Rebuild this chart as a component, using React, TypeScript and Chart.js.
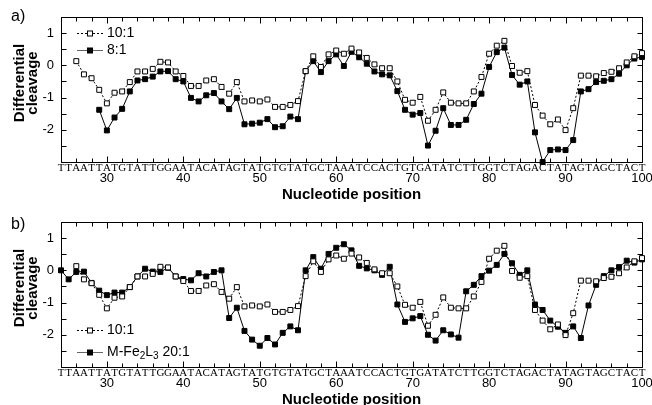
import React, { useEffect, useRef } from "react";
import { Chart, registerables } from "chart.js";

Chart.register(...registerables);

// ---------- data ----------
const sequence = "TTAATTATGTATTGGAATACATAGTATGTGTATGCTAAATCCACTGTGATATCTTGGTCTAGACTATAGTAGCTACT".split("");
const positionMin = 24;
const positionMax = 100;
const xNumberTicks = [30, 40, 50, 60, 70, 80, 90, 100];
const yLabelTicks = [1, 0, -1, -2];
const yMin = -3;
const yMax = 1.5;

// 10:1 (open squares), positions 26..100 (same in both panels)
const ratio10Start = 26;
const ratio10 = [
  0.13, -0.28, -0.40, -0.76, -1.18, -0.85, -0.81, -0.52, -0.19, -0.19,
  -0.11, 0.11, 0.09, -0.19, -0.33, -0.64, -0.64, -0.47, -0.43, -0.67,
  -0.88, -0.52, -1.12, -1.09, -1.12, -1.06, -1.29, -1.29, -1.23, -1.11,
  -0.18, 0.28, -0.05, 0.34, 0.46, 0.36, 0.52, 0.40, 0.23, 0.03,
  -0.09, -0.09, -0.50, -1.07, -1.16, -0.98, -1.72, -1.38, -0.84, -1.16,
  -1.18, -1.18, -0.81, -0.36, 0.36, 0.61, 0.76, -0.02, -0.23, -0.18,
  -1.23, -1.56, -1.83, -1.68, -2.01, -1.33, -0.32, -0.32, -0.34, -0.24,
  -0.20, -0.09, 0.09, 0.28, 0.38,
];

// 8:1 (filled squares, panel a), positions 29..100
const ratio8Start = 29;
const ratio8 = [
  -1.38, -2.02, -1.62, -1.35, -0.81, -0.47, -0.43, -0.35, -0.19, -0.18,
  -0.43, -0.50, -1.01, -1.12, -0.93, -0.86, -1.12, -1.36, -1.01, -1.83,
  -1.81, -1.78, -1.67, -1.92, -1.89, -1.59, -1.67, -0.18, 0.13, -0.21,
  0.13, 0.34, -0.02, 0.42, 0.25, 0.05, -0.19, -0.28, -0.31, -0.80,
  -1.38, -1.53, -1.48, -2.49, -2.03, -1.33, -1.85, -1.85, -1.69, -1.20,
  -0.88, -0.05, 0.41, 0.55, -0.30, -0.60, -0.50, -2.08, -3.00, -2.63,
  -2.61, -2.63, -2.32, -0.81, -0.74, -0.52, -0.48, -0.43, -0.26, 0.00,
  0.21, 0.26,
];

// M-Fe2L3 20:1 (filled squares, panel b), positions 24..100
const mfeStart = 24;
const mfe20 = [
  0.00, -0.28, -0.05, -0.04, -0.39, -0.63, -0.77, -0.69, -0.69, -0.52,
  -0.19, 0.05, -0.04, -0.05, 0.08, -0.19, -0.27, -0.31, -0.09, -0.19,
  -0.05, 0.00, -1.48, -1.16, -1.88, -2.15, -2.34, -2.10, -2.30, -1.94,
  -1.74, -1.86, 0.00, 0.41, 0.05, 0.51, 0.70, 0.81, 0.62, 0.14,
  0.06, 0.00, -0.14, 0.11, -1.06, -1.60, -1.49, -1.42, -2.00, -2.18,
  -1.86, -1.99, -2.09, -0.65, -0.45, -0.18, -0.01, 0.17, 0.51, 0.22,
  -0.14, 0.00, -1.06, -1.23, -1.56, -1.75, -1.94, -1.74, -2.10, -1.09,
  -0.45, -0.18, 0.00, 0.10, 0.30, 0.24, 0.34,
];

const yTitleLines = ["Differential", "cleavage"];
const xTitle = "Nucleotide position";

// ---------- helpers ----------
const toPoints = (start: number, values: number[]) =>
  values.map((v, i) => ({ x: start + i, y: v }));

const SANS = "'Liberation Sans', Arial, sans-serif";
const SERIF = "'Liberation Serif', 'Times New Roman', serif";

type LabelPart = { t: string; sub?: boolean };

function openSeries(label: string) {
  return {
    label,
    data: toPoints(ratio10Start, ratio10),
    borderColor: "#000",
    borderWidth: 1,
    borderDash: [2, 2],
    pointStyle: "rect",
    pointRadius: 3.5,
    pointBackgroundColor: "#fff",
    pointBorderColor: "#000",
    pointBorderWidth: 1,
    fill: false,
    tension: 0,
    clip: false,
  };
}

function filledSeries(label: string, start: number, values: number[]) {
  return {
    label,
    data: toPoints(start, values),
    borderColor: "#000",
    borderWidth: 1,
    pointStyle: "rect",
    pointRadius: 3.5,
    pointBackgroundColor: "#000",
    pointBorderColor: "#000",
    pointBorderWidth: 1,
    fill: false,
    tension: 0,
    clip: false,
  };
}

type PanelProps = {
  top: number;
  height: number;
  padTop: number;
  x2Height: number;
  panelLabel: string;
  panelLabelBaseline: number;
  yTitleCenter: number;
  legendRows: number[];
  legendLabels: LabelPart[][];
  datasets: any[];
};

function Panel(props: PanelProps) {
  const ref = useRef<HTMLCanvasElement>(null);
  useEffect(() => {
    const {
      padTop, x2Height, panelLabel, panelLabelBaseline, yTitleCenter,
      legendRows, legendLabels, datasets,
    } = props;

    const framePlugin = {
      id: "frame",
      beforeDatasetsDraw(chart: any) {
        const { ctx, chartArea: a, scales } = chart;
        const L = Math.round(a.left) + 0.5;
        const R = Math.round(a.right) + 0.5;
        const T = Math.round(a.top) + 0.5;
        const B = Math.round(a.bottom) + 0.5;
        ctx.save();
        ctx.strokeStyle = "#000";
        ctx.lineWidth = 1;
        ctx.beginPath();
        ctx.rect(L, T, R - L, B - T);
        // x inward ticks every 2
        for (let v = positionMin; v <= positionMax; v += 2) {
          const px = Math.round(scales.x.getPixelForValue(v)) + 0.5;
          const len = v % 10 === 0 ? 6 : 4;
          ctx.moveTo(px, B);
          ctx.lineTo(px, B - len);
          ctx.moveTo(px, T);
          ctx.lineTo(px, T + len);
        }
        // y inward ticks every 0.5
        for (let v = yMin; v <= yMax + 1e-9; v += 0.5) {
          const py = Math.round(scales.y.getPixelForValue(v)) + 0.5;
          ctx.moveTo(L, py);
          ctx.lineTo(L + 5, py);
          ctx.moveTo(R, py);
          ctx.lineTo(R - 5, py);
        }
        ctx.stroke();
        ctx.restore();
      },
      afterDraw(chart: any) {
        const { ctx, chartArea: a } = chart;
        ctx.save();
        ctx.fillStyle = "#000";
        // panel label
        ctx.font = `16px ${SANS}`;
        ctx.textAlign = "left";
        ctx.textBaseline = "alphabetic";
        ctx.fillText(panelLabel, 11, panelLabelBaseline);
        // y title
        ctx.font = `bold 15px ${SANS}`;
        ctx.textAlign = "center";
        const baseX = [24, 37];
        yTitleLines.forEach((line, i) => {
          ctx.save();
          ctx.translate(baseX[i], yTitleCenter);
          ctx.rotate(-Math.PI / 2);
          ctx.fillText(line, 0, 0);
          ctx.restore();
        });
        // x title
        ctx.font = `bold 15px ${SANS}`;
        ctx.textAlign = "center";
        ctx.fillText(xTitle, (a.left + a.right) / 2, a.bottom + 37);
        // legend
        chart.data.datasets.forEach((ds: any, i: number) => {
          const y = legendRows[i];
          ctx.save();
          ctx.strokeStyle = ds.borderDash ? "#000" : "#666";
          ctx.lineWidth = 1;
          ctx.setLineDash(ds.borderDash || []);
          ctx.beginPath();
          ctx.moveTo(77, Math.round(y) + 0.5);
          ctx.lineTo(103, Math.round(y) + 0.5);
          ctx.stroke();
          ctx.setLineDash([]);
          ctx.fillStyle = ds.pointBackgroundColor;
          ctx.strokeStyle = "#000";
          ctx.fillRect(87.5, Math.round(y) - 2, 5, 5);
          ctx.strokeRect(87.5, Math.round(y) - 2, 5, 5);
          ctx.restore();
          let x = 107;
          ctx.textAlign = "left";
          ctx.textBaseline = "middle";
          legendLabels[i].forEach((p) => {
            ctx.font = p.sub ? `10px ${SANS}` : `14px ${SANS}`;
            ctx.fillText(p.t, x, p.sub ? y + 4 : y);
            x += ctx.measureText(p.t).width;
          });
        });
        ctx.restore();
      },
    };

    const chart = new Chart(ref.current as HTMLCanvasElement, {
      type: "line",
      data: { datasets },
      options: {
        animation: false,
        responsive: false,
        events: [],
        layout: { padding: { top: padTop, right: 10, left: 0, bottom: 0 } },
        plugins: { legend: { display: false }, tooltip: { enabled: false } },
        scales: {
          x: {
            type: "linear",
            position: "bottom",
            weight: 0,
            min: positionMin,
            max: positionMax,
            grid: { display: false, drawTicks: false },
            border: { display: false },
            afterBuildTicks: (s: any) => {
              s.ticks = sequence.map((_, i) => ({ value: positionMin + i }));
            },
            ticks: {
              autoSkip: false,
              maxRotation: 0,
              minRotation: 0,
              padding: 0,
              color: "#000",
              font: { family: SERIF, size: 11 },
              callback: (v: any) => sequence[Number(v) - positionMin] ?? "",
            },
            afterFit: (s: any) => {
              s.height = 9;
              s.paddingLeft = 0;
              s.paddingRight = 0;
            },
          },
          x2: {
            type: "linear",
            position: "bottom",
            weight: 1,
            min: positionMin,
            max: positionMax,
            grid: { display: false, drawTicks: false },
            border: { display: false },
            afterBuildTicks: (s: any) => {
              s.ticks = xNumberTicks.map((v) => ({ value: v }));
            },
            ticks: {
              autoSkip: false,
              maxRotation: 0,
              minRotation: 0,
              padding: 0,
              color: "#000",
              font: { family: SANS, size: 13 },
              callback: (v: any) => String(v),
            },
            afterFit: (s: any) => {
              s.height = x2Height;
              s.paddingLeft = 0;
              s.paddingRight = 0;
            },
          },
          y: {
            type: "linear",
            position: "left",
            min: yMin,
            max: yMax,
            grid: { display: false, drawTicks: false },
            border: { display: false },
            afterBuildTicks: (s: any) => {
              s.ticks = yLabelTicks.map((v) => ({ value: v }));
            },
            ticks: {
              padding: 7,
              color: "#000",
              font: { family: SANS, size: 13 },
              callback: (v: any) => String(v),
            },
            afterFit: (s: any) => {
              s.width = 61;
              s.paddingTop = 0;
              s.paddingBottom = 0;
            },
          },
        },
      } as any,
      plugins: [framePlugin],
    });
    return () => chart.destroy();
  }, []);

  return (
    <div style={{ position: "absolute", left: 0, top: props.top, width: 652, height: props.height }}>
      <canvas ref={ref} width={652} height={props.height} style={{ display: "block" }} />
    </div>
  );
}

export default function App() {
  const datasetsA = [openSeries("10:1"), filledSeries("8:1", ratio8Start, ratio8)];
  const datasetsB = [openSeries("10:1"), filledSeries("M-Fe2L3 20:1", mfeStart, mfe20)];
  return (
    <div style={{ position: "fixed", left: 0, top: 0, width: 652, height: 405, background: "#fff", overflow: "hidden" }}>
      <Panel
        top={0}
        height={202}
        padTop={17}
        x2Height={31}
        panelLabel="a)"
        panelLabelBaseline={21}
        yTitleCenter={83}
        legendRows={[33, 50]}
        legendLabels={[[{ t: "10:1" }], [{ t: "8:1" }]]}
        datasets={datasetsA}
      />
      <Panel
        top={202}
        height={203}
        padTop={20}
        x2Height={29}
        panelLabel="b)"
        panelLabelBaseline={27}
        yTitleCenter={86}
        legendRows={[128, 150]}
        legendLabels={[
          [{ t: "10:1" }],
          [{ t: "M-Fe" }, { t: "2", sub: true }, { t: "L" }, { t: "3", sub: true }, { t: " 20:1" }],
        ]}
        datasets={datasetsB}
      />
    </div>
  );
}
